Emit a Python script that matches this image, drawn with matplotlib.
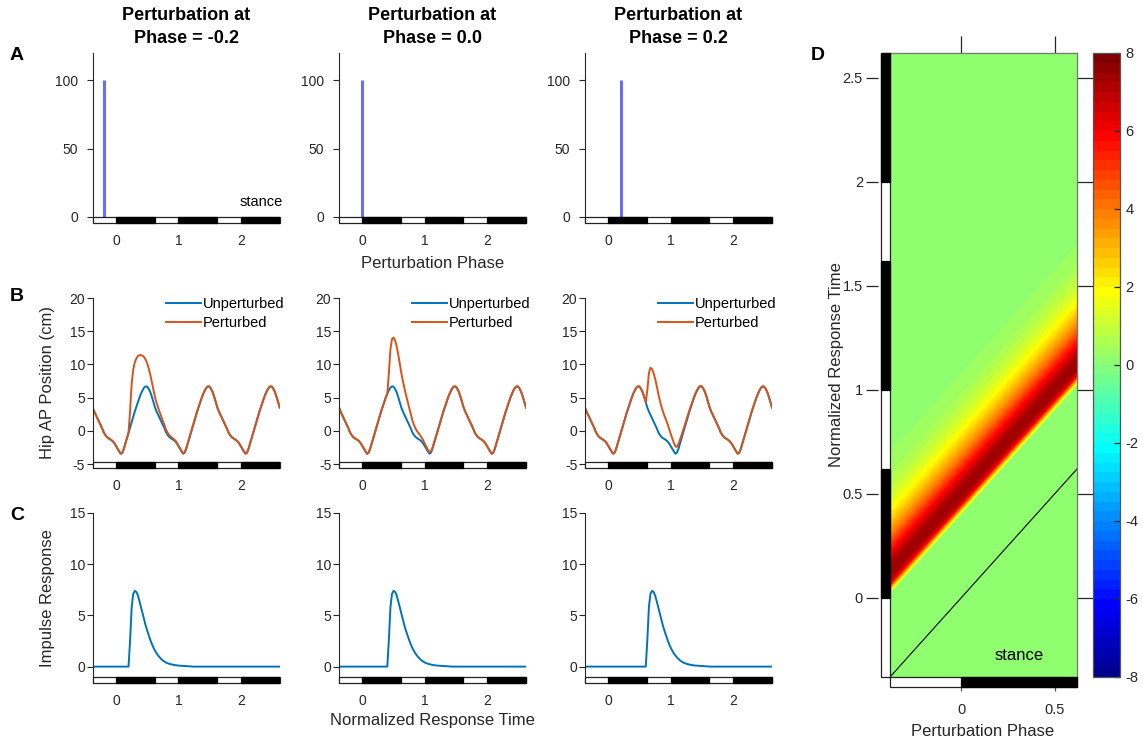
import numpy as np
import matplotlib
matplotlib.use('Agg')
import matplotlib.pyplot as plt
import matplotlib.transforms as mtransforms
from matplotlib.colors import ListedColormap, Normalize
from matplotlib.patches import Rectangle
import matplotlib.cm as cm

plt.rcParams['font.family'] = ['Liberation Sans', 'DejaVu Sans']
plt.rcParams['axes.unicode_minus'] = False

# sampling step (gait cycles) and response-time axis
dt = 0.025
t = np.round(np.arange(-0.375, 2.625 + dt / 2, dt), 3)

# hip AP position over one gait cycle (cm), every dt from heel strike
hip_cycle = [-2.3, -2.7, -3.1, -3.45, -3.3, -2.7, -1.9, -1.1, -0.3, 0.5,
             1.3, 2.1, 2.9, 3.6, 4.3, 5.0, 5.6, 6.1, 6.5, 6.7,
             6.65, 6.3, 5.8, 5.1, 4.3, 3.5, 2.9, 2.4, 1.9, 1.4,
             0.9, 0.4, -0.2, -0.6, -0.9, -1.1, -1.25, -1.4, -1.6, -1.9]

# impulse response, every dt from response onset
impulse_resp = [0.0, 2.6, 5.8, 7.1, 7.4, 7.3, 6.95, 6.4, 5.8, 5.2,
                4.6, 4.0, 3.5, 3.05, 2.6, 2.2, 1.85, 1.55, 1.3, 1.08,
                0.9, 0.75, 0.6, 0.5, 0.4, 0.34, 0.28, 0.24, 0.2, 0.17,
                0.14, 0.12, 0.1, 0.09, 0.08, 0.07, 0.06, 0.05, 0.04, 0.03, 0.02]
resp_delay = 0.4        # onset of response after the perturbation

pert_phases = [-0.2, 0.0, 0.2]
pert_size = 100
stance_end = 0.62       # stance fraction of each cycle

C_BLUE = '#0072BD'
C_ORANGE = '#D95319'
TXT = '#262626'

W, H = 1143, 742
fig = plt.figure(figsize=(W / 100, H / 100), dpi=100)


def px_axes(left, top, right, bottom):
    return fig.add_axes([left / W, 1 - bottom / H, (right - left) / W, (bottom - top) / H])


def matlab_jet(n=64):
    m = int(np.ceil(n / 4))
    u = np.r_[np.arange(1, m + 1) / m, np.ones(m - 1), np.arange(m, 0, -1) / m]
    g = int(np.ceil(m / 2)) - (n % 4 == 1) + np.arange(1, len(u) + 1)
    r = g + m
    b = g - m
    J = np.zeros((n, 3))
    J[r[r <= n] - 1, 0] = u[r <= n]
    J[g[g <= n] - 1, 1] = u[g <= n]
    J[b[b >= 1] - 1, 2] = u[b >= 1]
    return ListedColormap(J)


def stance_segments(x0, x1):
    segs = []
    for k in range(int(np.floor(x0)), int(np.ceil(x1)) + 1):
        a, b = max(k, x0), min(k + stance_end, x1)
        if b > a:
            segs.append((a, b))
    return segs


def stance_bar_x(ax, x0, x1, y0, y1):
    # horizontal bar: data x, axes-fraction y
    tr = mtransforms.blended_transform_factory(ax.transData, ax.transAxes)
    ax.add_patch(Rectangle((x0, y0), x1 - x0, y1 - y0, transform=tr, facecolor='white',
                           edgecolor='#222222', lw=0.9, clip_on=False, zorder=3))
    for a, b in stance_segments(x0, x1):
        ax.add_patch(Rectangle((a, y0), b - a, y1 - y0, transform=tr, facecolor='black',
                               edgecolor='black', lw=0.9, clip_on=False, zorder=3))


def stance_bar_y(ax, y0, y1, x0, x1):
    # vertical bar: axes-fraction x, data y
    tr = mtransforms.blended_transform_factory(ax.transAxes, ax.transData)
    ax.add_patch(Rectangle((x0, y0), x1 - x0, y1 - y0, transform=tr, facecolor='white',
                           edgecolor='#222222', lw=0.9, clip_on=False, zorder=3))
    for a, b in stance_segments(y0, y1):
        ax.add_patch(Rectangle((x0, a), x1 - x0, b - a, transform=tr, facecolor='black',
                               edgecolor='black', lw=0.9, clip_on=False, zorder=3))


def style_small(ax, ylim, yticks, ypad):
    ax.set_xlim(t[0], t[-1])
    ax.set_ylim(*ylim)
    ax.set_yticks(yticks)
    ax.set_xticks([0, 1, 2])
    for s in ['top', 'right', 'bottom']:
        ax.spines[s].set_visible(False)
    ax.spines['left'].set_color(TXT)
    ax.spines['left'].set_linewidth(0.8)
    ax.tick_params(axis='y', direction='out', length=4, width=0.8, colors=TXT,
                   labelsize=10, pad=ypad)
    ax.tick_params(axis='x', length=0, colors=TXT, labelsize=10, pad=8)
    ax.patch.set_visible(False)
    stance_bar_x(ax, t[0], t[-1], 0, 6 / 170)


# unperturbed hip trajectory over the whole time axis
cycle_idx = np.round((t % 1.0) / dt).astype(int) % len(hip_cycle)
hip = np.array(hip_cycle)[cycle_idx]

col_left = [92.7, 339, 585]
col_w = 187
rows = {'A': (53, 223), 'B': (298, 468), 'C': (513, 683)}

for j, p in enumerate(pert_phases):
    x0 = col_left[j]
    x1 = x0 + col_w

    # response to a perturbation at phase p
    resp = np.zeros_like(t)
    i0 = int(np.argmin(np.abs(t - (p + resp_delay))))
    n = min(len(impulse_resp), len(t) - i0)
    resp[i0:i0 + n] = impulse_resp[:n]

    # A: perturbation timing
    axA = px_axes(x0, rows['A'][0], x1, rows['A'][1])
    axA.plot([p, p], [0, pert_size], color='#6b6bff', lw=2.2, solid_capstyle='butt')
    style_small(axA, (-4.4, 120), [0, 50, 100], 6.5)
    axA.set_title('Perturbation at\nPhase = %.1f' % p, fontsize=13, fontweight='bold',
                  linespacing=1.45, pad=7)

    # B: hip AP position
    axB = px_axes(x0, rows['B'][0], x1, rows['B'][1])
    axB.plot(t, hip, color=C_BLUE, lw=1.4, label='Unperturbed')
    axB.plot(t, hip + resp, color=C_ORANGE, lw=1.4, label='Perturbed')
    style_small(axB, (-5.6, 20), [-5, 0, 5, 10, 15, 20], 1.5)
    axB.legend(frameon=False, loc='upper right', bbox_to_anchor=(1.025, 1.005),
               fontsize=10.5, handlelength=2.4, handletextpad=0.15, labelspacing=0.35,
               borderaxespad=0, borderpad=0)

    # C: impulse response
    axC = px_axes(x0, rows['C'][0], x1, rows['C'][1])
    axC.plot(t, resp, color=C_BLUE, lw=1.4)
    style_small(axC, (-1.6, 15), [0, 5, 10, 15], 1.5)

    if j == 0:
        axA.text(2.67, 11, 'stance', ha='right', va='center', fontsize=10.5, color='black')

fig.text(432.5 / W, 1 - 264 / H, 'Perturbation Phase', ha='center', va='center',
         fontsize=12, color=TXT)
fig.text(432.5 / W, 1 - 720 / H, 'Normalized Response Time', ha='center', va='center',
         fontsize=12, color=TXT)
fig.text(48 / W, 1 - 383 / H, 'Hip AP Position (cm)', ha='center', va='center',
         rotation=90, fontsize=12, color=TXT)
fig.text(48 / W, 1 - 598 / H, 'Impulse Response', ha='center', va='center',
         rotation=90, fontsize=12, color=TXT)

# D: response map over perturbation phase
jet64 = matlab_jet(64)
norm = Normalize(-8, 8)
axD = px_axes(890, 53, 1077, 677)
phase_edges = np.array([-0.38, 0.62])
lag = np.r_[-1.0, resp_delay + dt * np.arange(len(impulse_resp)), 3.5]
vals = np.r_[0.0, impulse_resp, 0.0]
X = np.tile(phase_edges, (len(lag), 1))
Y = phase_edges[None, :] + lag[:, None]
Z = np.tile(vals[:, None], (1, 2))
axD.contourf(X, Y, Z, levels=np.linspace(-8, 8, 65) - 0.01, cmap=jet64, norm=norm)
axD.plot(phase_edges, phase_edges, color='black', lw=0.8)
axD.set_xlim(-0.38, 0.62)
axD.set_ylim(-0.38, 2.62)
axD.set_xticks([0, 0.5])
axD.set_xticklabels(['0', '0.5'])
axD.set_yticks([0, 0.5, 1, 1.5, 2, 2.5])
axD.set_yticklabels(['0', '0.5', '1', '1.5', '2', '2.5'])
axD.spines['left'].set_position(('outward', 9))
axD.spines['left'].set_visible(False)
axD.spines['bottom'].set_visible(False)
for s in ['top', 'right']:
    axD.spines[s].set_color('#777777')
    axD.spines[s].set_linewidth(0.9)
axD.tick_params(axis='y', direction='out', length=9, width=0.9, colors=TXT,
                labelsize=10.5, pad=1.5)
axD.tick_params(axis='x', direction='out', length=10, width=0.9, colors='#555555',
                labelcolor=TXT, labelsize=10.5, pad=9)
top = axD.secondary_xaxis('top')
top.set_xticks([0, 0.5])
top.set_xticklabels([])
top.tick_params(direction='out', length=12, width=0.9, colors=TXT)
top.spines['top'].set_color('#777777')
right = axD.secondary_yaxis('right')
right.set_yticks([0, 0.5, 1, 1.5, 2, 2.5])
right.set_yticklabels([])
right.tick_params(direction='out', length=12, width=0.9, colors=TXT)
right.spines['right'].set_color('#777777')
stance_bar_y(axD, -0.38, 2.62, -9 / 187, 0)
stance_bar_x(axD, -0.38, 0.62, -10 / 624, 0)
axD.text(1019 / W, 1 - 655 / H, 'stance', transform=fig.transFigure, ha='center',
         va='center', fontsize=12, color='black')
fig.text(836 / W, 1 - 365 / H, 'Normalized Response Time', ha='center', va='center',
         rotation=90, fontsize=12, color=TXT)
fig.text(983 / W, 1 - 731 / H, 'Perturbation Phase', ha='center', va='center',
         fontsize=12, color=TXT)

cax = px_axes(1093, 53, 1120, 677)
cb = fig.colorbar(cm.ScalarMappable(norm=norm, cmap=jet64), cax=cax,
                  ticks=np.arange(-8, 9, 2))
cb.outline.set_edgecolor('#555555')
cb.outline.set_linewidth(0.9)
cax.tick_params(direction='in', length=4, width=0.9, colors=TXT, labelsize=10.5, pad=4)

for letter, (x, y) in {'A': (17, 55), 'B': (17, 297), 'C': (17, 515), 'D': (818, 55)}.items():
    fig.text(x / W, 1 - y / H, letter, ha='center', va='center', fontsize=14,
             fontweight='bold', color='black')

fig.savefig('out.png', dpi=100)
